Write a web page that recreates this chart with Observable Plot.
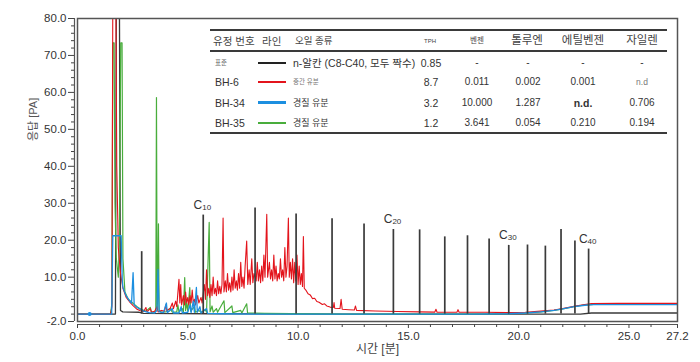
<!DOCTYPE html>
<html>
<head>
<meta charset="utf-8">
<script src="https://cdn.jsdelivr.net/npm/d3@7"></script>
<script src="https://cdn.jsdelivr.net/npm/@observablehq/plot@0.6"></script>
<style>
  html, body { margin: 0; padding: 0; background: #fff; }
  #wrap { position: relative; width: 700px; height: 362px; font-family: 'Liberation Sans', 'Noto Sans CJK KR', sans-serif; color: #333; }
  #wrap .c { position: absolute; white-space: nowrap; line-height: 1; }
</style>
</head>
<body>
<div id="wrap"></div>
<script>
// ---------- DATA ----------
// n-alkane standard (black): carbon number, retention time [min], peak height [pA]
const alkaneCarbon = [8, 10, 12, 14, 16, 18, 20, 22, 24, 26, 28, 30, 32, 34, 36, 38, 40];
const alkaneTime   = [2.91, 5.70, 8.05, 9.91, 11.54, 12.99, 14.32, 15.51, 16.65, 17.68, 18.66, 19.55, 20.40, 21.21, 21.92, 22.55, 23.17];
const alkaneHeight = [16.9, 26.8, 28.7, 27.1, 25.8, 24.4, 22.9, 22.8, 20.9, 21.2, 20.3, 18.6, 18.7, 18.4, 22.9, 19.8, 17.6];
const labelledCarbons = [10, 20, 30, 40];

// black baseline incl. solvent peak
const blackTrace = [[0,0],[1.72,0],[1.76,85],[1.90,85],[1.95,1.0],[2.05,0.6],[2.8,0.5],[3.0,0.2],[6,0.1],[12,0],[20,0],[22.8,0],[23.3,0.3],[27.2,0.3]];

// BH-6 (red)
const redTrace = [[0,0],[1.5,0],[1.56,2],[1.60,85],[1.74,85],[1.78,40],[1.85,18],[1.95,11],[2.06,7],[2.2,4.6],[2.35,3.4],[2.52,2.3],[2.7,1.3],[2.85,0.9],[3.0,0.7],[3.1,1.8],[3.15,0.6],[3.3,1.5],[3.35,0.5],[3.5,0.8],[3.6,2.0],[3.65,0.6],[3.8,1.0],[3.95,0.8],[4.0,2.5],[4.05,1.0],[4.2,1.5],[4.3,3.0],[4.35,1.5],[4.45,3.5],[4.5,2.0],[4.6,9.4],[4.64,3],[4.68,8],[4.72,2.5],[4.8,5],[4.85,2.5],[4.9,6],[4.95,3],[5.0,4.5],[5.05,2.5],[5.1,5],[5.15,3],[5.2,6.5],[5.25,3],[5.3,4],[5.35,2.5],[5.45,5],[5.5,3],[5.6,4.5],[5.65,3],[5.75,8],[5.8,4],[5.85,12],[5.9,5],[5.95,7],[6.0,4.5],[6.05,8],[6.1,5],[6.15,10],[6.2,5.5],[6.25,7],[6.3,5],[6.35,9],[6.4,5.5],[6.45,7.5],[6.5,5.5],[6.55,8],[6.6,26],[6.64,6],[6.7,9],[6.75,6],[6.8,11],[6.85,6.5],[6.9,8.5],[6.95,6],[7.0,10],[7.05,6.5],[7.1,12],[7.15,7],[7.2,9],[7.25,6.5],[7.3,11],[7.35,7],[7.4,14],[7.45,7.5],[7.5,10],[7.55,7],[7.6,13],[7.67,19.8],[7.72,8],[7.78,12],[7.83,8],[7.9,15],[7.95,8.5],[8.0,11],[8.1,9],[8.15,14],[8.2,9],[8.25,12],[8.3,8.5],[8.35,13],[8.4,9],[8.45,16],[8.5,10],[8.58,27],[8.62,10],[8.7,14],[8.75,9.5],[8.8,12],[8.85,9],[8.9,16],[8.95,9.5],[9.0,13],[9.05,9],[9.1,11],[9.15,9.5],[9.2,15],[9.25,10],[9.3,12],[9.35,9],[9.4,18],[9.45,10],[9.5,13],[9.56,26],[9.6,10],[9.65,14],[9.7,9.5],[9.75,15],[9.8,8.5],[9.85,14],[9.9,9],[9.95,16],[10.0,8],[10.05,13],[10.1,8],[10.15,11],[10.2,7.5],[10.24,21],[10.28,7],[10.35,6.5],[10.45,5.5],[10.55,5.2],[10.65,4.2],[10.75,4.3],[10.85,3.4],[10.95,3.2],[11.1,2.6],[11.2,2.8],[11.3,2.2],[11.45,1.9],[11.6,1.8],[11.63,3.1],[11.66,1.6],[11.9,1.5],[11.95,4.0],[12.0,1.3],[12.3,1.2],[12.55,1.1],[12.6,2.2],[12.65,1.0],[13.5,0.85],[14.5,0.7],[15.5,0.6],[16.2,0.55],[16.25,1.3],[16.3,0.5],[17.2,0.5],[17.25,1.2],[17.3,0.5],[18.5,0.5],[19.5,0.4],[20.3,0.5],[21.0,0.8],[21.6,1.1],[22.0,1.5],[22.5,2.1],[23.0,2.6],[23.3,2.85],[24.5,2.9],[27.2,2.9]];

// BH-35 (green)
const greenTrace = [[0,0],[1.5,0],[1.56,3],[1.60,73.4],[1.66,73.4],[1.70,30],[1.76,15],[1.85,10],[1.90,20],[1.96,73.4],[2.02,73.4],[2.06,15],[2.15,6],[2.3,4],[2.5,3],[2.7,2],[2.9,1.2],[3.1,0.8],[3.3,1.8],[3.35,0.6],[3.5,0.5],[3.55,1],[3.58,58.6],[3.61,1.5],[3.64,5],[3.67,24.4],[3.70,1],[3.8,0.5],[4.0,0.6],[4.2,1.5],[4.3,0.5],[4.5,0.6],[4.55,2.5],[4.6,0.6],[4.75,1.5],[4.8,0.5],[4.86,9.9],[4.9,1],[4.95,3],[5.0,0.8],[5.09,7.2],[5.13,0.8],[5.3,2],[5.35,0.5],[5.5,1],[5.6,0.5],[5.8,1.2],[5.85,0.5],[5.97,24.8],[6.01,0.6],[6.1,2.2],[6.15,0.5],[6.3,1.5],[6.35,0.5],[6.64,3.6],[6.68,0.4],[7.0,2.2],[7.04,0.4],[7.4,1],[7.45,0.3],[7.67,2.8],[7.71,0.3],[8.5,0.2],[12,0],[19.5,0.1],[20.3,0.3],[21.0,0.6],[21.6,1.0],[22.0,1.4],[22.5,2.0],[23.0,2.5],[23.4,2.6],[27.2,2.6]];

// BH-34 (blue)
const blueTrace = [[0,0],[1.55,0],[1.60,21.2],[1.98,21.2],[2.03,9],[2.06,7.2],[2.2,5],[2.36,3.6],[2.45,3],[2.52,11.2],[2.57,2.5],[2.7,1.8],[2.82,1.4],[3.0,0.8],[3.25,0.4],[3.5,0.3],[3.6,1],[3.65,12.1],[3.7,0.6],[3.9,0.4],[4.03,3],[4.07,0.4],[4.3,1.5],[4.35,0.3],[4.6,0.3],[4.7,2],[4.75,0.3],[5.0,0.5],[5.1,2.5],[5.15,0.4],[5.25,3.5],[5.3,0.5],[5.39,7.2],[5.43,0.5],[5.55,2],[5.6,0.3],[5.85,1.5],[5.9,0.2],[6.5,0.1],[8,0],[18,0],[19.5,0.1],[20.3,0.3],[21.0,0.6],[21.6,1.0],[22.0,1.4],[22.5,2.0],[23.0,2.4],[23.4,2.55],[27.2,2.55]];
const blueMarker = [[0.55, 0]];

// axis ticks
const yTicks = [-2, 10, 20, 30, 40, 50, 60, 70, 80];
const yMinorTicks = [0, 2, 4, 6, 8, 12, 14, 16, 18, 22, 24, 26, 28, 32, 34, 36, 38, 42, 44, 46, 48, 52, 54, 56, 58, 62, 64, 66, 68, 72, 74, 76, 78];
const xTicks = [0, 5, 10, 15, 20, 25, 27.2];
const xMinorTicks = [1, 2, 3, 4, 6, 7, 8, 9, 11, 12, 13, 14, 16, 17, 18, 19, 21, 22, 23, 24, 26];
const xLabel = "시간 [분]";
const yLabel = "응답 [PA]";

// inset table
const tableHeaders = ["유정 번호", "라인", "오일 종류", "TPH", "벤젠", "톨루엔", "에틸벤젠", "자일렌"];
const wells = ["표준", "BH-6", "BH-34", "BH-35"];
const lineColors = ["#222222", "#e3141c", "#1c8fe0", "#49ad3c"];
const oilTypes = ["n-알칸 (C8-C40, 모두 짝수)", "중간 유분", "경질 유분", "경질 유분"];
const tph = ["0.85", "8.7", "3.2", "1.2"];
const benzene = ["-", "0.011", "10.000", "3.641"];
const toluene = ["-", "0.002", "1.287", "0.054"];
const ethylbenzene = ["-", "0.001", "n.d.", "0.210"];
const xylene = ["-", "n.d", "0.706", "0.194"];

// ---------- BUILD ----------
const peaks = alkaneCarbon.map((c, i) => ({c, t: alkaneTime[i], h: alkaneHeight[i]}));
const labelPeaks = peaks.filter(p => labelledCarbons.includes(p.c));
const [RED, BLUE, GREEN, BLACK] = [lineColors[1], lineColors[2], lineColors[3], "#3a3a3a"];

const chart = Plot.plot({
  width: 700, height: 362,
  marginTop: 18, marginBottom: 41, marginLeft: 77, marginRight: 23,
  style: {fontFamily: "'Liberation Sans', 'Noto Sans CJK KR', sans-serif", fontSize: "11.5px", color: "#333", background: "transparent"},
  x: {domain: [0, 27.2]},
  y: {domain: [-2, 80]},
  marks: [
    Plot.line(blackTrace, {x: d => d[0], y: d => d[1], stroke: BLACK, strokeWidth: 1.3, clip: true}),
    Plot.line(greenTrace, {x: d => d[0], y: d => d[1], stroke: GREEN, strokeWidth: 1.2, clip: true}),
    Plot.line(redTrace, {x: d => d[0], y: d => d[1], stroke: RED, strokeWidth: 1.1, clip: true}),
    Plot.line(blueTrace, {x: d => d[0], y: d => d[1], stroke: BLUE, strokeWidth: 1.3, clip: true}),
    Plot.dot(blueMarker, {x: d => d[0], y: d => d[1], r: 2, fill: BLUE}),
    Plot.ruleX(peaks, {x: "t", y1: 0, y2: "h", stroke: BLACK, strokeWidth: 1.7}),
    Plot.text(labelPeaks, {x: "t", y: "h", text: () => "C", dy: -10, dx: -1, textAnchor: "end", fontSize: 12, fill: "#333"}),
    Plot.text(labelPeaks, {x: "t", y: "h", text: d => String(d.c), dy: -8, dx: -1, textAnchor: "start", fontSize: 8, fill: "#333"}),
    Plot.frame({stroke: "#555", strokeWidth: 1.5}),
    Plot.ruleX([0], {dx: -3, stroke: "#555", strokeWidth: 1.2}),
    Plot.ruleY([-2], {dy: 3, stroke: "#555", strokeWidth: 1.2}),
    Plot.axisY(yTicks, {anchor: "left", tickSize: 6, tickPadding: 2, dx: -3, tickFormat: d => d.toFixed(1), label: null, stroke: "#444", fill: "#333"}),
    Plot.axisY(yMinorTicks, {anchor: "left", tickSize: 3, dx: -3, tickFormat: () => "", label: null, stroke: "#444"}),
    Plot.axisX(xTicks, {anchor: "bottom", tickSize: 4, tickPadding: 3, dy: 3, tickFormat: d => d.toFixed(1), label: null, stroke: "#444", fill: "#333"}),
    Plot.axisX(xMinorTicks, {anchor: "bottom", tickSize: 3, dy: 3, tickFormat: () => "", label: null, stroke: "#444"}),
    Plot.text([xLabel], {text: d => d, frameAnchor: "bottom", dy: 31, fontSize: 12, fill: "#444"}),
    Plot.text([yLabel], {text: d => d, frameAnchor: "left", dx: -44, dy: -29, rotate: -90, fontSize: 11, fill: "#555"})
  ]
});

const wrap = document.getElementById("wrap");
wrap.appendChild(chart);

// table overlay
function cell(text, x, y, {size = 10, anchor = "middle", color = "#333", weight = "normal"} = {}) {
  const d = document.createElement("div");
  d.className = "c";
  d.textContent = text;
  d.style.left = x + "px";
  d.style.top = y + "px";
  d.style.fontSize = size + "px";
  d.style.color = color;
  d.style.fontWeight = weight;
  d.style.transform = anchor === "middle" ? "translate(-50%,-50%)" : "translate(0,-50%)";
  wrap.appendChild(d);
}
function bar(x, y, w, h, color) {
  const d = document.createElement("div");
  Object.assign(d.style, {position: "absolute", left: x + "px", top: y + "px", width: w + "px", height: h + "px", background: color});
  wrap.appendChild(d);
}
const T = {left: 210, right: 667, top: 30, headRule: 51, bottom: 133, headY: 41, rowY: [63, 82, 102.5, 123]};
bar(T.left, T.top - 0.75, T.right - T.left, 1.5, "#3a3a3a");
bar(T.left, T.headRule - 0.75, T.right - T.left, 1.5, "#3a3a3a");
bar(T.left, T.bottom - 0.75, T.right - T.left, 1.5, "#3a3a3a");

const headPos = [[213, "start", 10.5], [262, "start", 10.5], [295, "start", 9.5], [430, "middle", 6], [477, "middle", 7.5], [527, "middle", 11.5], [583, "middle", 11.5], [642, "middle", 11.5]];
tableHeaders.forEach((h, i) => cell(h, headPos[i][0], T.headY, {anchor: headPos[i][1], size: headPos[i][2], color: "#444"}));

const wellSize = [6.5, 10.5, 10.5, 10.5];
const oilSize = [10.5, 6.5, 9, 9];
wells.forEach((w, i) => {
  const y = T.rowY[i];
  cell(w, 215, y, {anchor: "start", size: wellSize[i], color: i === 0 ? "#666" : "#333"});
  bar(258, y - 1.25, 28, 2.5, lineColors[i]);
  cell(oilTypes[i], 293, y, {anchor: "start", size: oilSize[i], color: i === 1 ? "#777" : "#333"});
  cell(tph[i], 431, y, {size: 10.5});
  cell(benzene[i], 477, y, {size: 10});
  cell(toluene[i], 528, y, {size: 10});
  cell(ethylbenzene[i], 583, y, {size: ethylbenzene[i] === "n.d." ? 10.5 : 10, weight: ethylbenzene[i] === "n.d." ? "bold" : "normal"});
  cell(xylene[i], 642, y, {size: xylene[i] === "n.d" ? 8.5 : 10, color: xylene[i] === "n.d" ? "#777" : "#333"});
});
</script>
</body>
</html>
